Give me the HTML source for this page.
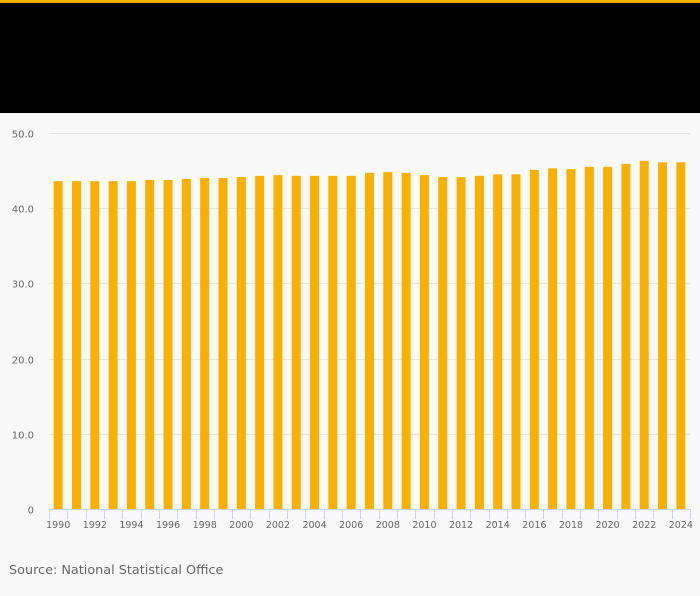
<!DOCTYPE html>
<html><head><meta charset="utf-8"><style>
html,body{margin:0;padding:0;width:700px;height:596px;overflow:hidden;background:#f9f9f9;font-family:"DejaVu Sans","Liberation Sans",sans-serif}
#topline{position:absolute;left:0;top:0;width:700px;height:3px;background:#fab000}
#header{position:absolute;left:0;top:3px;width:700px;height:110px;background:#000}
#source{position:absolute;left:9px;top:563px;font-size:12.8px;color:#666}
svg{position:absolute;left:0;top:0}
</style></head><body>
<div id="topline"></div>
<div id="header"></div>
<svg id="chart" width="700" height="596"></svg>
<div id="source">Source: National Statistical Office</div>
<script>
const years = [1990,1991,1992,1993,1994,1995,1996,1997,1998,1999,2000,2001,2002,2003,2004,2005,2006,2007,2008,2009,2010,2011,2012,2013,2014,2015,2016,2017,2018,2019,2020,2021,2022,2023,2024];
const values = [43.6,43.6,43.6,43.6,43.6,43.75,43.75,43.9,44.0,44.0,44.15,44.3,44.4,44.3,44.3,44.3,44.3,44.7,44.8,44.7,44.4,44.15,44.15,44.3,44.5,44.5,45.1,45.3,45.2,45.5,45.5,45.9,46.3,46.1,46.1];
const yTicks = [0,10,20,30,40,50];
const yTickLabels = ["0","10.0","20.0","30.0","40.0","50.0"];

const NS="http://www.w3.org/2000/svg";
const svg=document.getElementById('chart');
const x0=49, x1=690, yTop=133, yBot=509, yMax=50;
const band=(x1-x0)/years.length;
const xPos=i=>x0+band*i;
const yPos=v=>yBot-(v/yMax)*(yBot-yTop);
const FF='DejaVu Sans, Liberation Sans, sans-serif';
function mk(tag,attrs){const e=document.createElementNS(NS,tag);for(const k in attrs)e.setAttribute(k,attrs[k]);svg.appendChild(e);return e;}

yTicks.forEach((t,i)=>{
  const y=Math.round(yPos(t))+0.5;
  if(t>0){const g=mk('line',{x1:x0,x2:x1,y1:y,y2:y,stroke:'#e6e6e6','stroke-width':1});
    
    }
  const tx=mk('text',{x:34,y:y+4,'text-anchor':'end','font-size':10,fill:'#666','font-family':FF});
  tx.textContent=yTickLabels[i];
  
  
});

values.forEach((v,i)=>{
  const cx=xPos(i)+band/2;
  const r=mk('rect',{x:cx-4.5,y:yPos(v),width:9,height:yBot-yPos(v),fill:'#fab000'});
  
  
});

const ax=mk('line',{x1:x0,x2:x1,y1:yBot+0.5,y2:yBot+0.5,stroke:'#ccd6eb','stroke-width':1});


for(let i=0;i<=years.length;i++){
  const x=Math.round(xPos(i))+0.5;
  const tk=mk('line',{x1:x,x2:x,y1:yBot,y2:yBot+10,stroke:'#ccd6eb','stroke-width':1});
  
  
}
years.forEach((yr,i)=>{
  if(i%2!==0)return;
  const t=mk('text',{x:xPos(i)+band/2,y:yBot+19,'text-anchor':'middle','font-size':9.5,fill:'#666','font-family':FF});
  t.textContent=yr;
  
  
});
</script>
</body></html>
